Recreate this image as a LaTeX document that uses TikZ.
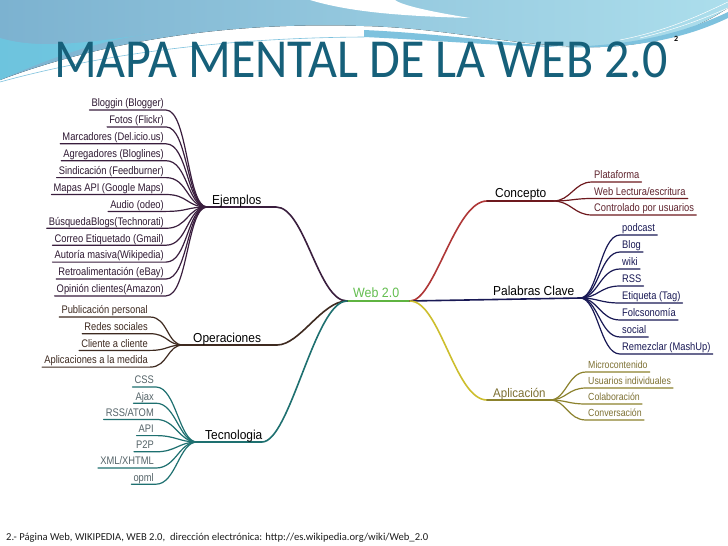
\documentclass[tikz,border=0pt]{standalone}
\usepackage{fontspec}
\setmainfont{Liberation Sans}
\newfontfamily\leaffont[FakeStretch=0.85]{Liberation Sans}
\newfontfamily\labfont[FakeStretch=0.92]{Liberation Sans}
\newfontfamily\titlefont{Carlito}
\definecolor{bannerL}{RGB}{124,178,208}
\definecolor{bannerR}{RGB}{172,222,236}
\definecolor{bannerC}{RGB}{100,208,232}
\definecolor{ribbon}{RGB}{126,194,222}
\definecolor{titlec}{RGB}{22,96,122}
\definecolor{ejc}{RGB}{58,30,62}
\definecolor{opc}{RGB}{62,42,32}
\definecolor{tcc}{RGB}{30,112,112}
\definecolor{tct}{RGB}{85,100,105}
\definecolor{ccmain}{RGB}{175,55,55}
\definecolor{ccc}{RGB}{110,25,30}
\definecolor{cct}{RGB}{95,35,45}
\definecolor{pcc}{RGB}{25,25,85}
\definecolor{apmain}{RGB}{205,190,45}
\definecolor{apc}{RGB}{140,130,45}
\definecolor{apt}{RGB}{125,112,50}
\definecolor{webg}{RGB}{95,180,65}
\definecolor{webt}{RGB}{100,190,80}
\definecolor{footc}{RGB}{30,30,30}
\tikzset{
  leafL/.style={anchor=south east, font=\leaffont\fontsize{11}{12}\selectfont,
     inner xsep=2pt, inner ysep=0.5pt, text height=8pt, text depth=2.5pt},
  leafR/.style={anchor=south west, font=\leaffont\fontsize{11}{12}\selectfont,
     inner xsep=2pt, inner ysep=0.5pt, text height=8pt, text depth=2.5pt},
  leafA/.style={anchor=south west, font=\leaffont\fontsize{10.3}{11}\selectfont,
     inner xsep=2pt, inner ysep=0.5pt, text height=7.5pt, text depth=2.5pt},
  lab/.style={anchor=base west, inner sep=0pt, font=\labfont\fontsize{13}{14}\selectfont},
  leafline/.style={line width=1.2pt, line cap=round},
  mainline/.style={line width=1.6pt, line cap=round}
}
\begin{document}
\begin{tikzpicture}[x=1pt,y=-1pt]
\useasboundingbox (0,0) rectangle (728,546);
\fill[white] (0,0) rectangle (728,546);
% ---- banner ----
\fill[left color=bannerL, right color=bannerR] (0,0) -- (728,0) -- (728,8)
  .. controls (700,26) and (660,46) .. (600,47)
  .. controls (520,48) and (450,28) .. (364,26)
  .. controls (250,22) and (120,35) .. (0,80) -- cycle;
\fill[bannerC, opacity=0.6] (0,38) .. controls (40,50) and (90,42) .. (150,34)
  .. controls (100,40) and (50,58) .. (0,80) -- cycle;
\fill[ribbon] (364,30) .. controls (430,33) and (500,42) .. (560,47)
  .. controls (500,46) and (430,40) .. (364,37) -- cycle;
\fill[ribbon] (560,47) .. controls (640,46) and (690,30) .. (728,12) -- (728,18)
  .. controls (690,36) and (640,50) .. (560,47) -- cycle;
\fill[white] (310,0) .. controls (350,12) and (400,16) .. (470,18)
  .. controls (420,10) and (400,4) .. (395,0) -- cycle;
\draw[ribbon, line width=0.6pt] (0,82) .. controls (80,60) and (200,38) .. (364,37);
\draw[white, line width=0.5pt] (620,40) .. controls (670,30) and (700,15) .. (728,2);
\draw[white, line width=0.5pt] (640,38) .. controls (680,28) and (705,18) .. (728,8);
% ---- title ----
\node[anchor=base west, inner sep=0pt, text=titlec,
      font=\titlefont\fontsize{50}{51}\selectfont] (title) at (54,77)
      {\scalebox{1}[1.1]{MAPA MENTAL DE LA WEB 2.0}};
\node[anchor=base west, inner sep=0pt, font=\titlefont\bfseries\fontsize{8}{8}\selectfont] (sup2) at (674,41) {2};
% ---- footer ----
\node[anchor=base west, inner sep=0pt, text=footc,
      font=\titlefont\fontsize{10.6}{11}\selectfont] (foot) at (6,540)
      {2.- Página Web, WIKIPEDIA, WEB 2.0,\ \ dirección electrónica: http://es.wikipedia.org/wiki/Web\_2.0};
% ---- centre ----
\coordinate (cl) at (347,301);
\coordinate (cr) at (410,301);
\draw[mainline, webg] (cl) -- (cr);
\node[lab, text=webt, font=\labfont\fontsize{13.5}{14}\selectfont] (web) at (353,297) {Web 2.0};
% hubs
\coordinate (ejhub) at (207,207); \coordinate (ejend) at (276,207);
\coordinate (ophub) at (183,345); \coordinate (opend) at (277,345);
\coordinate (tchub) at (197,442); \coordinate (tcend) at (262,442);
\coordinate (cchub) at (553,201); \coordinate (ccend) at (487,201);
\coordinate (pchub) at (580,298);
\coordinate (aphub) at (550,400); \coordinate (apend) at (487,400);
% main branches
\draw[mainline, ejc] (cl) .. controls (318,301) and (305,207) .. (ejend) -- (ejhub);
\draw[mainline, opc] (cl) .. controls (322,301) and (300,345) .. (opend) -- (ophub);
\draw[mainline, tcc] (cl) .. controls (315,301) and (290,442) .. (tcend) -- (tchub);
\draw[mainline, ccmain] (cr) .. controls (435,301) and (455,201) .. (ccend);
\draw[mainline, ccc] (ccend) -- (cchub);
\draw[mainline, pcc] (cr) -- (pchub);
\draw[mainline, apmain] (cr) .. controls (440,301) and (455,400) .. (apend);
\draw[mainline, apc] (apend) -- (aphub);
% labels
\node[lab] (ejl) at (212,204.5) {Ejemplos};
\node[lab] (opl) at (193,342) {Operaciones};
\node[lab] (tcl) at (205,439) {Tecnologia};
\node[lab] (ccl) at (495,197.5) {Concepto};
\node[lab] (pcl) at (493,295) {Palabras Clave};
\node[lab, text=apt, font=\labfont\fontsize{12.5}{13}\selectfont] (apl) at (493,397.5) {Aplicación};
% ---- Ejemplos leaves ----
\foreach \t [count=\i] in {Bloggin (Blogger), Fotos (Flickr), Marcadores (Del.icio.us),
   Agregadores (Bloglines), Sindicación (Feedburner), Mapas API (Google Maps),
   Audio (odeo), BúsquedaBlogs(Technorati), Correo Etiquetado (Gmail),
   Autoría masiva(Wikipedia), Retroalimentación (eBay), Opinión clientes(Amazon)} {
  \node[leafL, text=ejc!80!black] (ej\i) at ({166},{110+(\i-1)*16.9}) {\t};
  \draw[leafline, ejc] (ejhub) .. controls +(-20,0) and +(22,0) .. (ej\i.south east) -- (ej\i.south west);
}
% ---- Operaciones leaves ----
\foreach \t [count=\i] in {Publicación personal, Redes sociales, Cliente a cliente, Aplicaciones a la medida} {
  \node[leafL, text=opc] (op\i) at ({150},{317+(\i-1)*16.7}) {\t};
  \draw[leafline, opc] (ophub) .. controls +(-16,0) and +(18,0) .. (op\i.south east) -- (op\i.south west);
}
% ---- Tecnologia leaves ----
\foreach \t [count=\i] in {CSS, Ajax, RSS/ATOM, API, P2P, XML/XHTML, opml} {
  \node[leafL, text=tct] (tc\i) at ({156},{387+(\i-1)*16.2}) {\t};
  \draw[leafline, tcc] (tchub) .. controls +(-18,0) and +(20,0) .. (tc\i.south east) -- (tc\i.south west);
}
% ---- Concepto leaves ----
\foreach \t [count=\i] in {Plataforma, Web Lectura/escritura, Controlado por usuarios} {
  \node[leafR, text=cct] (cc\i) at ({592},{182+(\i-1)*16.5}) {\t};
  \draw[leafline, ccc] (cchub) .. controls +(18,0) and +(-18,0) .. (cc\i.south west) -- (cc\i.south east);
}
% ---- Palabras Clave leaves ----
\foreach \t [count=\i] in {podcast, Blog, wiki, RSS, Etiqueta (Tag), Folcsonomía, social, Remezclar (MashUp)} {
  \node[leafR, text=pcc] (pc\i) at ({620},{235+(\i-1)*17}) {\t};
  \draw[leafline, pcc] (pchub) .. controls +(18,0) and +(-20,0) .. (pc\i.south west) -- (pc\i.south east);
}
% ---- Aplicación leaves ----
\foreach \t [count=\i] in {Microcontenido, Usuarios individuales, Colaboración, Conversación} {
  \node[leafA, text=apt] (ap\i) at ({586},{372+(\i-1)*16}) {\t};
  \draw[leafline, apc] (aphub) .. controls +(16,0) and +(-18,0) .. (ap\i.south west) -- (ap\i.south east);
}
\end{tikzpicture}
\end{document}
